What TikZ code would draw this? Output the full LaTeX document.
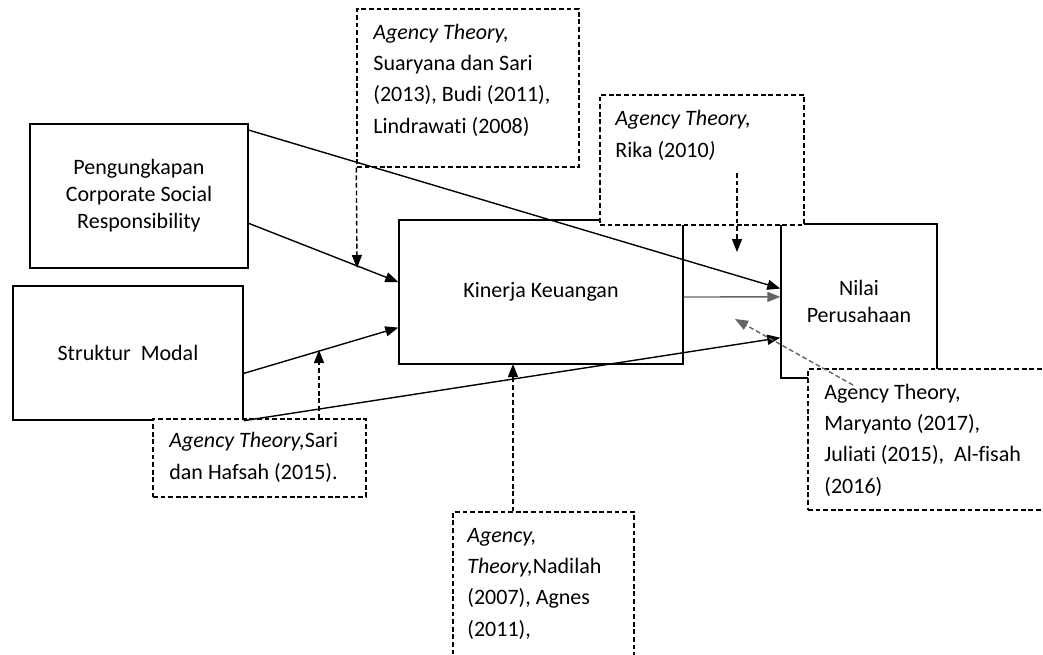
\documentclass[tikz,border=0pt]{standalone}
\usepackage{fontspec}
\setmainfont{Carlito}[Ligatures=NoCommon]
\usetikzlibrary{arrows.meta}
\definecolor{linegray}{RGB}{100,100,100}

\begin{document}
\begin{tikzpicture}[x=0.5pt,y=-0.5pt,
        var/.style={draw=black,line width=0.7pt,align=center,inner sep=0pt,
            font=\fontsize{11}{13.5}\selectfont},
        ref/.style={draw=black,line width=0.7pt,dash pattern=on 2.4pt off 1.4pt,
            fill=white,inner sep=0pt},
        reftext/.style={anchor=base west,align=left,inner sep=0pt,
            font=\fontsize{11}{15.6}\selectfont},
        link/.style={draw=black,line width=0.7pt,-{Triangle[length=6.5pt,width=5pt]}},
        reflink/.style={link,dash pattern=on 2.4pt off 1.4pt}]
        \useasboundingbox (0,0) rectangle (1043,654);
        \clip (0,0) rectangle (1043,654);

        \node[var,minimum width=109pt,minimum height=72pt] (csr) at (139,196) {Pengungkapan\\Corporate Social\\Responsibility};
        \node[var,minimum width=115pt,minimum height=67pt] (modal) at (128,353) {Struktur\ \ Modal};
        \node[var,minimum width=142pt,minimum height=72pt] (kinerja) at (541,292) {Kinerja Keuangan};
        \node[var,minimum width=78pt,minimum height=77pt] (nilai) at (859,301) {Nilai\\Perusahaan};

        \node[ref,minimum width=111pt,minimum height=79pt] (suaryana) at (468,88) {};
        \node[ref,minimum width=102pt,minimum height=65pt] (rika) at (702,160) {};
        \node[ref,minimum width=106.5pt,minimum height=39pt] (sari) at (259.5,458) {};
        \node[ref,minimum width=122pt,minimum height=70.5pt] (maryanto) at (930,439.5) {};
        \node[ref,minimum width=90.5pt,minimum height=77pt] (nadilah) at (543.5,589) {};

        % anchored at the baseline of the last line
        \node[reftext] (suaryanatxt) at (373,133) {\textit{Agency Theory,}\\Suaryana dan Sari\\(2013), Budi\ (2011),\\Lindrawati (2008)};
        \node[reftext] (rikatxt) at (615,157) {\textit{Agency Theory,}\\Rika (2010\textit{)}};
        \node[reftext] (saritxt) at (169,479) {\textit{Agency Theory,}Sari\\dan Hafsah (2015).};
        \node[reftext] (maryantotxt) at (824,493) {Agency Theory,\\Maryanto (2017),\\Juliati (2015),\ \ Al-fisah\\(2016)};
        \node[reftext] (nadilahtxt) at (467,636) {\textit{Agency,}\\\textit{Theory,}Nadilah\\(2007), Agnes\\(2011),};

        \draw[link] (csr.31.6) -- (nilai.171);
        \draw[link] (csr.-14.9) -- (kinerja.176.4);
        \draw[link] (modal.-10.8) -- (kinerja.-166.6);
        \draw[link] (modal.south east) -- (nilai.205);
        \draw[link,draw=linegray] (kinerja.-2) -- (nilai.177);

        \coordinate (csrhit) at (357,268);
        \coordinate (rikafrom) at (737,173);
        \coordinate (rikahit) at (737,252);
        \coordinate (modalhit) at (319,350);
        \coordinate (kinerjahit) at (513,364);
        \coordinate (maryantofrom) at (853,385);
        \coordinate (maryantohit) at (735,319);
        \draw[reflink] (suaryana.south west) -- (csrhit);
        \draw[reflink] (rikafrom) -- (rikahit);
        \draw[reflink] (sari.north -| modalhit) -- (modalhit);
        \draw[reflink] (nadilah.north -| kinerjahit) -- (kinerjahit);
        \draw[reflink,draw=linegray] (maryantofrom) -- (maryantohit);
    \end{tikzpicture}
\end{document}
